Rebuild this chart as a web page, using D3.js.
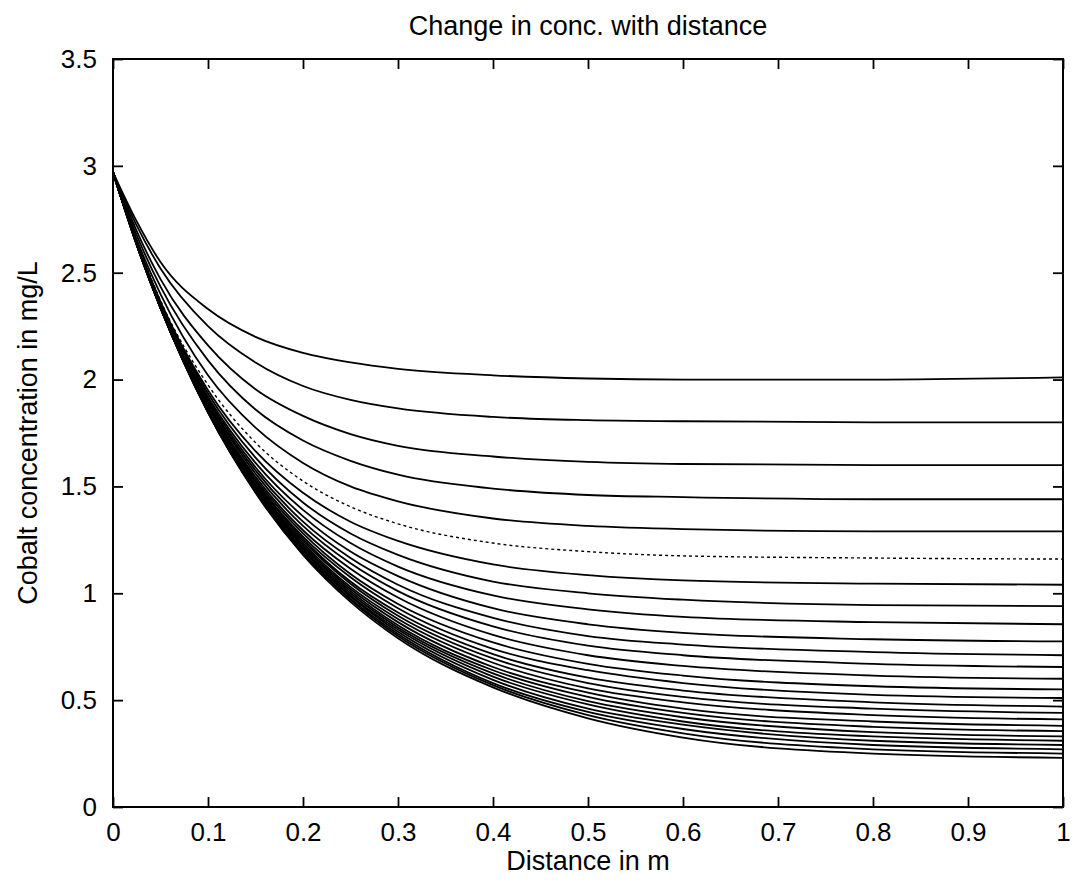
<!DOCTYPE html>
<html>
<head>
<meta charset="utf-8">
<script src="https://cdn.jsdelivr.net/npm/d3@7"></script>
<style>
  body { margin: 0; background: #fff; }
  .chart text { font-family: "Liberation Sans", Arial, sans-serif; fill: #000; }
</style>
</head>
<body>
<div class="chart"></div>
<script>
// distance along the column (m)
var distance = [0, 0.025, 0.05, 0.1, 0.15, 0.2, 0.25, 0.3, 0.4, 0.5, 0.6, 0.8, 1.0];

// cobalt concentration (mg/L), one row per profile
var profiles = [
  [2.97, 2.74, 2.55, 2.33, 2.20, 2.125, 2.08, 2.05, 2.02, 2.005, 2.0, 2.0, 2.01],
  [2.97, 2.72, 2.52, 2.25, 2.08, 1.97, 1.905, 1.865, 1.825, 1.81, 1.805, 1.80, 1.80],
  [2.97, 2.695, 2.47, 2.16, 1.955, 1.83, 1.745, 1.69, 1.64, 1.615, 1.605, 1.60, 1.60],
  [2.97, 2.675, 2.435, 2.09, 1.86, 1.715, 1.62, 1.555, 1.49, 1.46, 1.45, 1.44, 1.44],
  [2.97, 2.655, 2.40, 2.02, 1.775, 1.61, 1.50, 1.43, 1.35, 1.315, 1.30, 1.29, 1.29],
  [2.97, 2.645, 2.37, 1.975, 1.705, 1.525, 1.405, 1.325, 1.235, 1.195, 1.175, 1.165, 1.16],
  [2.97, 2.64, 2.365, 1.95, 1.665, 1.47, 1.335, 1.245, 1.135, 1.085, 1.06, 1.045, 1.04],
  [2.97, 2.64, 2.36, 1.935, 1.635, 1.425, 1.28, 1.18, 1.055, 1.0, 0.97, 0.945, 0.94],
  [2.97, 2.64, 2.355, 1.92, 1.61, 1.39, 1.235, 1.125, 0.99, 0.925, 0.89, 0.865, 0.855],
  [2.97, 2.64, 2.35, 1.91, 1.59, 1.36, 1.195, 1.08, 0.93, 0.855, 0.815, 0.785, 0.775],
  [2.97, 2.64, 2.35, 1.90, 1.575, 1.335, 1.165, 1.04, 0.885, 0.80, 0.76, 0.725, 0.71],
  [2.97, 2.64, 2.345, 1.895, 1.56, 1.315, 1.14, 1.01, 0.845, 0.755, 0.71, 0.67, 0.655],
  [2.97, 2.635, 2.345, 1.885, 1.545, 1.295, 1.115, 0.98, 0.805, 0.71, 0.66, 0.615, 0.60],
  [2.97, 2.635, 2.34, 1.88, 1.535, 1.28, 1.09, 0.95, 0.77, 0.67, 0.615, 0.565, 0.55],
  [2.97, 2.635, 2.34, 1.875, 1.525, 1.265, 1.075, 0.93, 0.74, 0.64, 0.58, 0.525, 0.51],
  [2.97, 2.635, 2.34, 1.87, 1.52, 1.255, 1.055, 0.91, 0.715, 0.605, 0.545, 0.49, 0.47],
  [2.97, 2.635, 2.34, 1.865, 1.51, 1.245, 1.045, 0.895, 0.695, 0.58, 0.515, 0.46, 0.44],
  [2.97, 2.635, 2.34, 1.865, 1.505, 1.235, 1.03, 0.88, 0.675, 0.555, 0.49, 0.43, 0.41],
  [2.97, 2.635, 2.335, 1.86, 1.50, 1.225, 1.02, 0.865, 0.655, 0.535, 0.46, 0.40, 0.38],
  [2.97, 2.635, 2.335, 1.86, 1.495, 1.22, 1.01, 0.85, 0.64, 0.515, 0.44, 0.375, 0.355],
  [2.97, 2.63, 2.335, 1.855, 1.49, 1.21, 1.0, 0.84, 0.625, 0.495, 0.42, 0.35, 0.33],
  [2.97, 2.63, 2.335, 1.855, 1.485, 1.205, 0.99, 0.83, 0.61, 0.48, 0.40, 0.33, 0.31],
  [2.97, 2.63, 2.335, 1.85, 1.48, 1.20, 0.985, 0.82, 0.595, 0.46, 0.385, 0.31, 0.29],
  [2.97, 2.63, 2.335, 1.85, 1.475, 1.19, 0.975, 0.81, 0.58, 0.445, 0.365, 0.29, 0.27],
  [2.97, 2.63, 2.335, 1.845, 1.475, 1.185, 0.97, 0.80, 0.57, 0.43, 0.345, 0.27, 0.25],
  [2.97, 2.63, 2.335, 1.845, 1.47, 1.18, 0.96, 0.79, 0.56, 0.415, 0.325, 0.25, 0.23]
];

// profiles that came out broken / dotted in the print
var dottedProfiles = [5];

var xTicks = [0, 0.1, 0.2, 0.3, 0.4, 0.5, 0.6, 0.7, 0.8, 0.9, 1];
var xTickLabels = ["0", "0.1", "0.2", "0.3", "0.4", "0.5", "0.6", "0.7", "0.8", "0.9", "1"];
var yTicks = [0, 0.5, 1, 1.5, 2, 2.5, 3, 3.5];
var yTickLabels = ["0", "0.5", "1", "1.5", "2", "2.5", "3", "3.5"];

var svgWidth = 1075;
var svgHeight = 885;

var margin = { top: 59, right: 12, bottom: 78, left: 113 };
var chartWidth = svgWidth - margin.left - margin.right;
var chartHeight = svgHeight - margin.top - margin.bottom;

var svg = d3.select(".chart")
  .append("svg")
  .attr("width", svgWidth)
  .attr("height", svgHeight);

svg.append("rect")
  .attr("width", svgWidth)
  .attr("height", svgHeight)
  .attr("fill", "#fff");

var chartGroup = svg.append("g")
  .attr("transform", `translate(${margin.left}, ${margin.top})`);

// scales
var xScale = d3.scaleLinear()
  .domain([0, 1])
  .range([0, chartWidth]);

var yScale = d3.scaleLinear()
  .domain([0, 3.5])
  .range([chartHeight, 0]);

// axes, matlab style: ticks pointing inwards on all four sides
var bottomAxis = d3.axisBottom(xScale)
  .tickValues(xTicks)
  .tickFormat((d, i) => xTickLabels[i])
  .tickSizeInner(-10)
  .tickSizeOuter(0)
  .tickPadding(16);

var leftAxis = d3.axisLeft(yScale)
  .tickValues(yTicks)
  .tickFormat((d, i) => yTickLabels[i])
  .tickSizeInner(-10)
  .tickSizeOuter(0)
  .tickPadding(16);

var topAxis = d3.axisTop(xScale)
  .tickValues(xTicks)
  .tickFormat("")
  .tickSizeInner(-10)
  .tickSizeOuter(0);

var rightAxis = d3.axisRight(yScale)
  .tickValues(yTicks)
  .tickFormat("")
  .tickSizeInner(-10)
  .tickSizeOuter(0);

chartGroup.append("g")
  .attr("transform", `translate(0, ${chartHeight})`)
  .call(bottomAxis);

chartGroup.append("g")
  .call(leftAxis);

chartGroup.append("g")
  .call(topAxis);

chartGroup.append("g")
  .attr("transform", `translate(${chartWidth}, 0)`)
  .call(rightAxis);

chartGroup.selectAll(".domain").remove();
chartGroup.selectAll(".tick line")
  .attr("stroke", "#000")
  .attr("stroke-width", 1.8);
chartGroup.selectAll(".tick text")
  .style("font-size", "26px");

// line generator
var line = d3.line()
  .x((d, i) => xScale(distance[i]))
  .y(d => yScale(d))
  .curve(d3.curveMonotoneX);

chartGroup.append("g")
  .selectAll("path")
  .data(profiles)
  .enter()
  .append("path")
  .attr("d", line)
  .attr("fill", "none")
  .attr("stroke", "#000")
  .attr("stroke-width", (d, i) => dottedProfiles.includes(i) ? 1.4 : 1.8)
  .attr("stroke-dasharray", (d, i) => dottedProfiles.includes(i) ? "3,3" : null);

// box
chartGroup.append("rect")
  .attr("width", chartWidth)
  .attr("height", chartHeight)
  .attr("fill", "none")
  .attr("stroke", "#000")
  .attr("stroke-width", 2);

// labels
chartGroup.append("text")
  .attr("x", chartWidth / 2)
  .attr("y", -24)
  .attr("text-anchor", "middle")
  .style("font-size", "27px")
  .text("Change in conc. with distance");

chartGroup.append("text")
  .attr("x", chartWidth / 2)
  .attr("y", chartHeight + 63)
  .attr("text-anchor", "middle")
  .style("font-size", "27px")
  .text("Distance in m");

chartGroup.append("text")
  .attr("transform", "rotate(-90)")
  .attr("x", -chartHeight / 2)
  .attr("y", -76)
  .attr("text-anchor", "middle")
  .style("font-size", "27px")
  .text("Cobalt concentration in mg/L");
</script>
</body>
</html>
